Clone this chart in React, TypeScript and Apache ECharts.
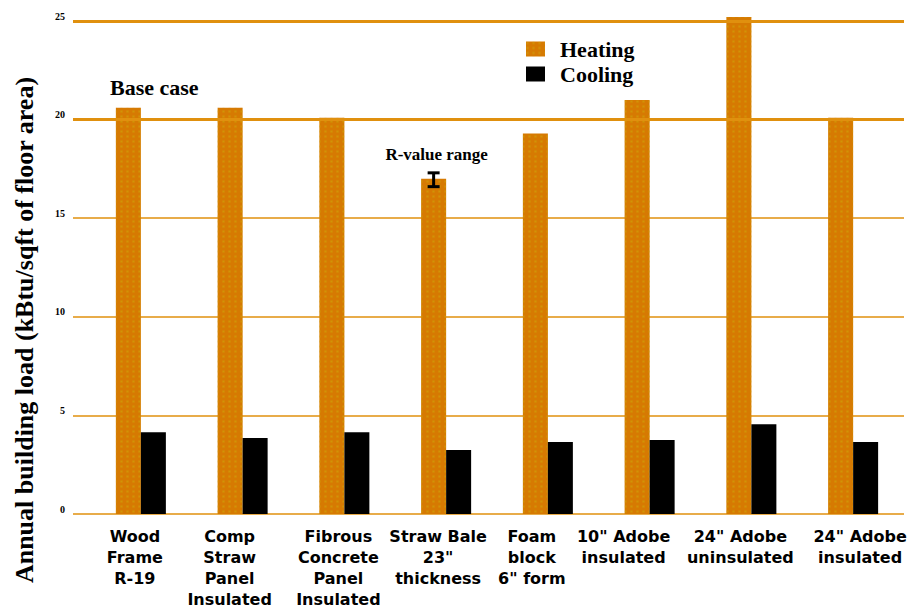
import React, { useEffect, useRef } from "react";
import * as echarts from "echarts";

const categories = [
  "Wood\nFrame\nR-19",
  "Comp\nStraw\nPanel\nInsulated",
  "Fibrous\nConcrete\nPanel\nInsulated",
  "Straw Bale\n23\"\nthickness",
  "Foam\nblock\n6\" form",
  "10\" Adobe\ninsulated",
  "24\" Adobe\nuninsulated",
  "24\" Adobe\ninsulated",
];
const labelShift = [-6, -13, -6, -8, -16, -26, -11, 7];
const heating = [20.6, 20.6, 20.1, 17.0, 19.3, 21.0, 25.2, 20.1];
const cooling = [4.15, 3.85, 4.15, 3.25, 3.65, 3.75, 4.55, 3.65];
const rValueRange = [[3, 16.6, 17.3]];
const yTicks = { min: 0, max: 25, interval: 5 };
const emphasisLines = [20, 25];

const ORANGE = "#D67A02";
const GRID = "#E0900E";

export default function App() {
  const ref = useRef<HTMLDivElement>(null);
  useEffect(() => {
    if (!ref.current) return;
    const chart = echarts.init(ref.current, undefined, { renderer: "svg" });
    const barWidth = 25;
    chart.setOption({
      animation: false,
      backgroundColor: "#ffffff",
      grid: [
        { left: 73, right: 10, top: 21, bottom: 100, containLabel: false },
        { left: 90, right: 10, top: 21, bottom: 100, containLabel: false },
      ],
      legend: {
        orient: "vertical",
        left: 521,
        top: 33,
        itemWidth: 19,
        itemHeight: 15,
        itemGap: 3,
        icon: "rect",
        textStyle: {
          fontFamily: "Liberation Serif",
          fontSize: 22,
          fontWeight: "bold",
          color: "#000",
          padding: [0, 0, 0, 10],
        },
        data: ["Heating", "Cooling"],
      },
      xAxis: [
        {
          type: "category",
          gridIndex: 0,
          data: categories,
          show: false,
        },
        {
          type: "category",
          gridIndex: 1,
          data: categories.map((c, i) => {
            const s = labelShift[i];
            return {
              value: c,
              textStyle: {
                padding: s < 0 ? [0, -2 * s, 0, 0] : [0, 0, 0, 2 * s],
              },
            };
          }),
          axisLine: { show: false },
          axisTick: { show: false },
          axisLabel: {
            interval: 0,
            margin: 12,
            fontFamily: "DejaVu Sans",
            fontWeight: "bold",
            fontSize: 16,
            lineHeight: 21,
            color: "#000",
            verticalAlign: "top",
          },
        },
      ],
      yAxis: [
        {
          type: "value",
          gridIndex: 0,
          min: yTicks.min,
          max: yTicks.max,
          interval: yTicks.interval,
          axisLine: { show: false },
          axisTick: { show: false },
          axisLabel: {
            margin: 8,
            fontFamily: "Liberation Serif",
            fontWeight: "bold",
            fontSize: 10,
            color: "#000",
            verticalAlign: "bottom",
          },
          splitLine: { show: true, lineStyle: { color: GRID, width: 1.5 } },
        },
        {
          type: "value",
          gridIndex: 1,
          min: yTicks.min,
          max: yTicks.max,
          interval: yTicks.interval,
          show: false,
          splitLine: { show: false },
        },
      ],
      series: [
        {
          name: "gridlines",
          type: "line",
          xAxisIndex: 0,
          yAxisIndex: 0,
          data: [],
          z: 1,
          silent: true,
          markLine: {
            silent: true,
            symbol: "none",
            label: { show: false },
            lineStyle: { color: GRID, width: 3, type: "solid" },
            data: emphasisLines.map((v) => ({ yAxis: v })),
          },
        },
        {
          name: "Heating",
          type: "bar",
          xAxisIndex: 1,
          yAxisIndex: 1,
          data: heating,
          barWidth,
          barGap: "0%",
          clip: false,
          z: 3,
          itemStyle: {
            color: ORANGE,
            decal: {
              symbol: "rect",
              symbolSize: 0.7,
              color: "rgba(205,165,10,0.6)",
              dashArrayX: [3, 3],
              dashArrayY: [3, 2],
              rotation: 0,
            },
          },
        },
        {
          name: "Cooling",
          type: "bar",
          xAxisIndex: 1,
          yAxisIndex: 1,
          data: cooling,
          barWidth,
          clip: false,
          z: 3,
          itemStyle: { color: "#000" },
        },
        {
          name: "R-value range",
          type: "custom",
          xAxisIndex: 1,
          yAxisIndex: 1,
          data: rValueRange,
          z: 10,
          renderItem: (params: any, api: any) => {
            const x = api.value(0);
            const lo = api.coord([x, api.value(1)]);
            const hi = api.coord([x, api.value(2)]);
            const cx = lo[0] - barWidth / 2;
            const half = 6;
            const style = { stroke: "#000", lineWidth: 3 };
            return {
              type: "group",
              children: [
                { type: "line", shape: { x1: cx, y1: lo[1], x2: cx, y2: hi[1] }, style },
                { type: "line", shape: { x1: cx - half, y1: lo[1], x2: cx + half, y2: lo[1] }, style },
                { type: "line", shape: { x1: cx - half, y1: hi[1], x2: cx + half, y2: hi[1] }, style },
                {
                  type: "text",
                  style: {
                    text: "R-value range",
                    x: cx + 3,
                    y: hi[1] - 10,
                    align: "center",
                    verticalAlign: "bottom",
                    fontFamily: "Liberation Serif",
                    fontWeight: "bold",
                    fontSize: 17,
                    fill: "#000",
                  },
                },
              ],
            };
          },
        },
      ],
      graphic: [
        {
          type: "text",
          left: 110,
          top: 76,
          style: {
            text: "Base case",
            fontFamily: "Liberation Serif",
            fontWeight: "bold",
            fontSize: 22,
            fill: "#000",
          },
        },
        {
          type: "text",
          x: 24,
          y: 330,
          rotation: Math.PI / 2,
          style: {
            text: "Annual building load (kBtu/sqft of floor area)",
            align: "center",
            verticalAlign: "middle",
            fontFamily: "Liberation Serif",
            fontWeight: "bold",
            fontSize: 26,
            fill: "#000",
          },
        },
      ],
    });
    return () => chart.dispose();
  }, []);
  return (
    <div
      ref={ref}
      style={{ position: "fixed", left: 0, top: 0, width: 914, height: 614 }}
    />
  );
}
